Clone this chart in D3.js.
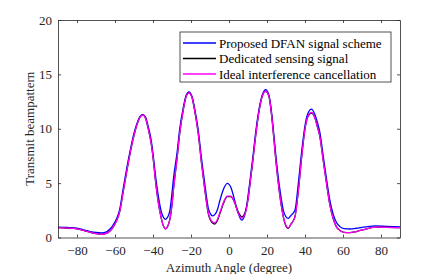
<!DOCTYPE html>
<html>
<head>
<meta charset="utf-8">
<script src="https://cdn.jsdelivr.net/npm/d3@7"></script>
<style>
  body { margin: 0; background: #fff; }
</style>
</head>
<body>
<div id="chart"></div>
<script>
// angles (degree), shared by the three curves
var angles = [-90, -85, -80, -76, -73, -70, -67, -64.5, -62.5, -61, -59, -57.5, -55.7, -54, -52, -50, -48, -46.5, -45.3, -44, -42.5, -41, -40.2, -38.4, -37, -35.8, -34.5, -33.3, -32.2, -31.1, -30, -29.3, -27.2, -26, -24, -22.5, -21.1, -19.5, -18, -16.2, -14.5, -13, -11.8, -10.9, -9.8, -8.8, -7.5, -6, -4.8, -3, -0.9, 1, 3, 4.7, 6.7, 8, 9, 10, 11.1, 12.5, 14.2, 16, 17.5, 19.3, 21, 22.2, 23.2, 24.4, 26.1, 27.3, 28.6, 30, 31.2, 32.5, 34.7, 36.5, 38.3, 40, 41.5, 43.4, 45, 46.5, 47.9, 49.5, 51.4, 53, 54.9, 56.5, 58.4, 60.5, 63.7, 67, 72, 77, 83, 90];

var proposed = [0.95, 0.92, 0.85, 0.68, 0.55, 0.46, 0.42, 0.52, 0.8, 1.15, 1.8, 2.6, 4.5, 6.2, 8.0, 9.6, 10.7, 11.2, 11.3, 11.1, 10.2, 9.0, 8.0, 5.3, 3.6, 2.5, 1.85, 1.67, 1.9, 2.5, 4.1, 5.3, 8.0, 9.9, 12.0, 13.1, 13.4, 13.0, 11.8, 9.9, 7.3, 5.3, 3.7, 2.7, 2.2, 1.98, 2.1, 2.6, 3.4, 4.4, 4.98, 4.6, 3.4, 2.3, 1.6, 1.9, 2.6, 3.8, 5.3, 7.3, 9.9, 12.0, 13.1, 13.6, 13.1, 11.8, 10.2, 8.0, 5.3, 3.8, 2.5, 1.9, 1.76, 2.0, 2.5, 5.0, 8.0, 10.3, 11.4, 11.8, 11.4, 10.6, 9.6, 7.6, 5.3, 3.5, 2.1, 1.4, 1.0, 0.82, 0.78, 0.85, 0.98, 1.06, 1.02, 0.97];

var dedicated = [0.9, 0.87, 0.8, 0.62, 0.47, 0.36, 0.3, 0.38, 0.62, 0.95, 1.6, 2.4, 4.2, 5.9, 7.8, 9.4, 10.6, 11.15, 11.25, 11.0, 10.0, 8.7, 7.7, 4.8, 3.0, 1.9, 1.05, 0.8, 1.05, 1.7, 3.0, 4.3, 7.5, 9.5, 11.8, 13.0, 13.3, 12.9, 11.6, 9.6, 6.9, 4.8, 3.2, 2.2, 1.6, 1.35, 1.24, 1.6, 2.2, 3.1, 3.75, 3.75, 3.2, 2.4, 1.9, 2.1, 2.6, 3.5, 5.0, 7.0, 9.6, 11.8, 13.0, 13.45, 13.0, 11.6, 9.9, 7.6, 4.8, 3.2, 1.9, 1.05, 0.85, 1.2, 1.9, 4.3, 7.5, 10.0, 11.1, 11.45, 11.1, 10.2, 9.2, 7.2, 4.9, 3.1, 1.7, 1.0, 0.65, 0.48, 0.44, 0.55, 0.78, 0.96, 0.94, 0.9];

var ideal = [0.9, 0.87, 0.8, 0.62, 0.47, 0.36, 0.3, 0.38, 0.62, 0.95, 1.6, 2.4, 4.2, 5.9, 7.8, 9.4, 10.6, 11.15, 11.25, 11.0, 10.0, 8.7, 7.7, 4.8, 3.0, 1.9, 1.05, 0.8, 1.05, 1.7, 3.0, 4.3, 7.5, 9.5, 11.8, 13.0, 13.3, 12.9, 11.6, 9.6, 6.9, 4.8, 3.2, 2.3, 1.7, 1.45, 1.35, 1.7, 2.3, 3.2, 3.8, 3.8, 3.2, 2.3, 1.8, 2.0, 2.5, 3.5, 5.0, 7.0, 9.6, 11.8, 13.0, 13.45, 13.0, 11.6, 9.9, 7.6, 4.8, 3.2, 1.9, 1.1, 0.88, 1.2, 1.9, 4.3, 7.5, 10.0, 11.1, 11.5, 11.1, 10.2, 9.2, 7.2, 4.9, 3.1, 1.7, 1.0, 0.65, 0.48, 0.44, 0.55, 0.78, 0.96, 0.94, 0.9];

var xTicks = [-80, -60, -40, -20, 0, 20, 40, 60, 80];
var yTicks = [0, 5, 10, 15, 20];

var seriesNames = ["Proposed DFAN signal scheme", "Dedicated sensing signal", "Ideal interference cancellation"];
var seriesColors = ["#0000ff", "#000000", "#ff00ff"];
var seriesData = [proposed, dedicated, ideal];

var width = 443, height = 274;
var margin = {left: 58, right: 43, top: 20, bottom: 36.5};
var axisColor = "#262626";
var font = "Liberation Serif";

var svg = d3.select("#chart").append("svg")
    .attr("width", width)
    .attr("height", height)
    .attr("font-family", font);

var x = d3.scaleLinear().domain([-90, 90]).range([margin.left, width - margin.right]);
var y = d3.scaleLinear().domain([0, 20]).range([height - margin.bottom, margin.top]);

// curves
var line = d3.line()
    .x(function(d){ return x(d[0]); })
    .y(function(d){ return y(d[1]); })
    .curve(d3.curveMonotoneX);

seriesData.forEach(function(vals, i){
    var pts = angles.map(function(a, j){ return [a, vals[j]]; });
    svg.append("path")
        .attr("d", line(pts))
        .attr("fill", "none")
        .attr("stroke", seriesColors[i])
        .attr("stroke-width", 1.3);
});

// axes, ticks inward, box on
var xAxisB = d3.axisBottom(x).tickValues(xTicks).tickSizeInner(-3).tickSizeOuter(0).tickPadding(8);
var xAxisT = d3.axisTop(x).tickValues(xTicks).tickSizeInner(-3).tickSizeOuter(0).tickFormat("");
var yAxisL = d3.axisLeft(y).tickValues(yTicks).tickSizeInner(-3).tickSizeOuter(0).tickPadding(6);
var yAxisR = d3.axisRight(y).tickValues(yTicks).tickSizeInner(-3).tickSizeOuter(0).tickFormat("");

function style(g){
    g.attr("font-family", font).attr("font-size", 13);
    g.selectAll("path, line").attr("stroke", axisColor).attr("stroke-width", 0.8);
    g.selectAll("text").attr("fill", axisColor);
}

svg.append("g").attr("transform", "translate(0," + y(0) + ")").call(xAxisB).call(style);
svg.append("g").attr("transform", "translate(0," + y(20) + ")").call(xAxisT).call(style);
svg.append("g").attr("transform", "translate(" + x(-90) + ",0)").call(yAxisL).call(style);
svg.append("g").attr("transform", "translate(" + x(90) + ",0)").call(yAxisR).call(style);

// labels
svg.append("text")
    .attr("x", (x(-90) + x(90)) / 2)
    .attr("y", 272)
    .attr("text-anchor", "middle")
    .attr("fill", axisColor)
    .attr("font-size", 13)
    .text("Azimuth Angle (degree)");

svg.append("text")
    .attr("transform", "translate(34," + ((y(0) + y(20)) / 2) + ") rotate(-90)")
    .attr("text-anchor", "middle")
    .attr("fill", axisColor)
    .attr("font-size", 13)
    .text("Transmit beampattern");

// legend
var lg = svg.append("g").attr("transform", "translate(180,32)");
lg.append("rect")
    .attr("width", 211).attr("height", 50)
    .attr("fill", "#fff")
    .attr("stroke", axisColor)
    .attr("stroke-width", 0.8);

seriesNames.forEach(function(name, i){
    var yy = 11 + i * 15.5;
    lg.append("line")
        .attr("x1", 3).attr("x2", 36)
        .attr("y1", yy).attr("y2", yy)
        .attr("stroke", seriesColors[i])
        .attr("stroke-width", 1.3);
    lg.append("text")
        .attr("x", 39).attr("y", yy + 4.5)
        .attr("fill", "#000")
        .attr("font-size", 13)
        .text(name);
});
</script>
</body>
</html>
